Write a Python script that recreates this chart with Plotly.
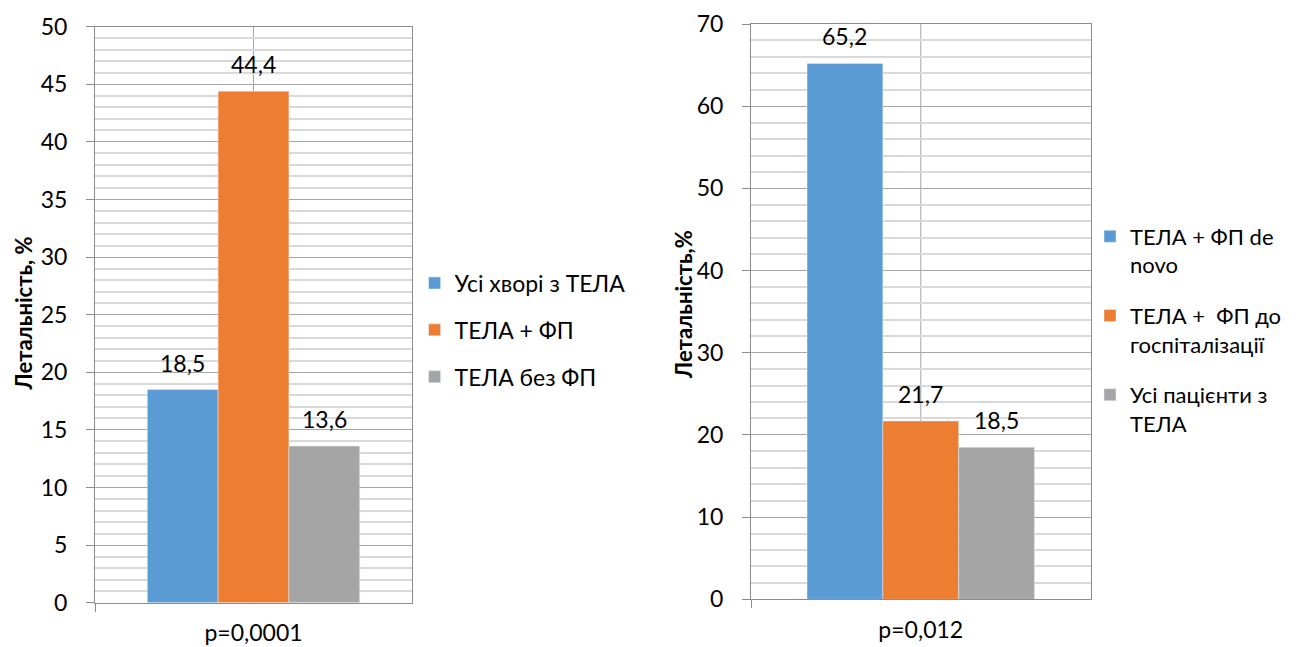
import plotly.graph_objects as go

W, H = 1296, 647
OFF = 8  # page body margin of the html page

# ---- data ----
left_category = ["p=0,0001"]
left_series = ["Усі хворі з ТЕЛА", "ТЕЛА + ФП", "ТЕЛА без ФП"]
left_values = [18.5, 44.4, 13.6]

right_category = ["p=0,012"]
right_series = ["ТЕЛА + ФП de<br>novo", "ТЕЛА +  ФП до<br>госпіталізації", "Усі пацієнти з<br>ТЕЛА"]
right_values = [65.2, 21.7, 18.5]

y_title_left = "Летальність, %"
y_title_right = "Летальність,%"

colors = ["#5B9BD5", "#ED7D31", "#A5A5A5"]

FONT = "Lato"
FS = 23
TXT = "#000000"
MAJOR = "#a6a6a6"
MINOR = "#d9d9d9"
AXIS = "#8c8c8c"
BARGAP = 0.33

# layout (screen pixels)
L_x0, L_x1, L_ytop, L_ybot = 95, 412, 26.7, 602.7
R_x0, R_x1, R_ytop, R_ybot = 751, 1090.5, 24, 599.3


def px_dom_x(a, b):
    return [(a - OFF) / W, (b - OFF) / W]


def px_dom_y(top, bot):
    return [(H - (bot - OFF)) / H, (H - (top - OFF)) / H]


def px_x(a):
    return (a - OFF) / W


def px_y(b):
    return (H - (b - OFF)) / H


fig = go.Figure()

for name, v, c in zip(left_series, left_values, colors):
    fig.add_trace(go.Bar(x=left_category, y=[v], name=name, marker_color=c,
                         xaxis="x", yaxis="y", legend="legend", legendgroup=name))
for name, v, c in zip(right_series, right_values, colors):
    fig.add_trace(go.Bar(x=right_category, y=[v], name=name, marker_color=c,
                         xaxis="x2", yaxis="y2", legend="legend2", legendgroup="r" + name))

tickfont = dict(family=FONT, size=FS, color=TXT)


def xaxis_cfg(dom):
    return dict(domain=dom, type="category", tickson="boundaries", ticks="outside", ticklen=8,
                tickcolor=AXIS, showline=True, linecolor=AXIS, mirror=True, showgrid=True,
                gridcolor=MAJOR, tickfont=tickfont, ticklabelstandoff=10, fixedrange=True,
                automargin=False)


def yaxis_cfg(dom, rng, dt, mdt, anchor):
    return dict(domain=dom, range=rng, dtick=dt, tick0=0, ticks="outside", ticklen=8,
                tickcolor=AXIS, showline=True, linecolor=AXIS, mirror=True,
                showgrid=True, gridcolor=MAJOR, gridwidth=1, zeroline=False,
                minor=dict(dtick=mdt, showgrid=True, gridcolor=MINOR, gridwidth=1.5, ticks=""),
                tickfont=tickfont, ticklabelstandoff=14, anchor=anchor, automargin=False)


fig.update_layout(
    width=W, height=H,
    margin=dict(l=0, r=0, t=0, b=0, autoexpand=False),
    paper_bgcolor="white", plot_bgcolor="white",
    barmode="group", bargap=BARGAP, bargroupgap=0,
    xaxis=xaxis_cfg(px_dom_x(L_x0, L_x1)) | dict(anchor="y"),
    yaxis=yaxis_cfg(px_dom_y(L_ytop, L_ybot), [0, 50], 5, 1, "x"),
    xaxis2=xaxis_cfg(px_dom_x(R_x0, R_x1)) | dict(anchor="y2"),
    yaxis2=yaxis_cfg(px_dom_y(R_ytop, R_ybot), [0, 70], 10, 2, "x2"),
    legend=dict(x=px_x(412) + 0.002, xanchor="left", y=px_y(330),
                yanchor="middle", font=dict(family=FONT, size=FS, color=TXT), tracegroupgap=14,
                bgcolor="rgba(0,0,0,0)", itemclick=False),
    legend2=dict(x=px_x(1090), xanchor="left", y=px_y(330),
                 yanchor="middle", font=dict(family=FONT, size=22, color=TXT), tracegroupgap=19,
                 valign="top", bgcolor="rgba(0,0,0,0)", itemclick=False),
    showlegend=True,
)

# center vertical gridline of each panel
for xr, yr in (("x domain", "y domain"), ("x2 domain", "y2 domain")):
    fig.add_shape(type="line", xref=xr, yref=yr, x0=0.5, x1=0.5, y0=0, y1=1,
                  line=dict(color=MAJOR, width=1), layer="below")

# data labels
annos = []
for cat, vals, x0, x1, xa, ya in ((left_category[0], left_values, L_x0, L_x1, "x", "y"),
                                  (right_category[0], right_values, R_x0, R_x1, "x2", "y2")):
    bw = (x1 - x0) * (1 - BARGAP) / len(vals)
    for i, v in enumerate(vals):
        annos.append(dict(x=cat, y=v, xref=xa, yref=ya, text=f"{v:.1f}".replace(".", ","),
                          showarrow=False, xshift=(i - 1) * bw, yshift=27, yanchor="middle",
                          font=dict(family=FONT, size=FS, color=TXT)))

# y-axis titles
for txt, cx, cy in ((y_title_left, 22.5, 314), (y_title_right, 683, 305)):
    annos.append(dict(text=f"<b>{txt}</b>", xref="paper", yref="paper", x=px_x(cx), y=px_y(cy),
                      xanchor="center", yanchor="middle", textangle=-90, showarrow=False,
                      font=dict(family=FONT, size=22, color=TXT)))

fig.update_layout(annotations=annos)

fig.write_html("out.html")
